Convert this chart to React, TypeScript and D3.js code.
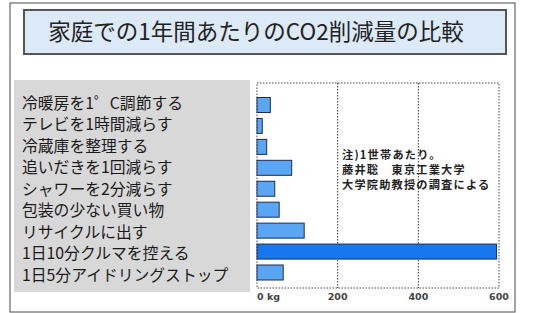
import React from "react";
import * as d3 from "d3";

const categories = [
  "冷暖房を1゜C調節する",
  "テレビを1時間減らす",
  "冷蔵庫を整理する",
  "追いだきを1回減らす",
  "シャワーを2分減らす",
  "包装の少ない買い物",
  "リサイクルに出す",
  "1日10分クルマを控える",
  "1日5分アイドリングストップ",
];
const values = [33, 13, 24, 86, 44, 55, 117, 594, 65];
const highlight = [false, false, false, false, false, false, false, true, false];
const ticks = [0, 200, 400, 600];
const tickLabels = ["0 kg", "200", "400", "600"];
const title = "家庭での1年間あたりのCO2削減量の比較";
const note = ["注)1世帯あたり。", "藤井聡　東京工業大学", "大学院助教授の調査による"];

const W = 541;
const H = 313;
const JP = "'Noto Sans CJK JP', 'Noto Sans', sans-serif";

export default function App() {
  const x = d3.scaleLinear().domain([0, 600]).range([257, 499]);
  const yBar = d3.scalePoint<string>().domain(categories).range([105, 272.5]);
  const yLabel = d3.scalePoint<string>().domain(categories).range([103, 275]);
  const barH = 15;
  const plotTop = 83;
  const plotBottom = 288;

  return (
    <svg width={W} height={H} style={{ position: "absolute", left: 0, top: 0 }}>
      <rect width={W} height={H} fill="#fff" />
      {/* outer frame */}
      <rect x={10} y={3} width={505} height={309} fill="none" stroke="#666" strokeWidth={1.2} />
      {/* title box */}
      <rect x={24} y={10} width={482} height={44} fill="#dce9f7" stroke="#555" strokeWidth={2} />
      <text x={256} y={40} textAnchor="middle" fontFamily={JP} fontSize={22.5} fill="#222">
        {title}
      </text>

      {/* label panel */}
      <rect x={14} y={80} width={236} height={212} fill="#d8d8d8" />
      {categories.map((c) => (
        <text key={c} x={22} y={yLabel(c)!} dy="0.36em" fontFamily={JP} fontSize={15.8} fill="#1a1a1a">
          {c}
        </text>
      ))}

      {/* plot frame + grid */}
      <rect x={x(0)} y={plotTop} width={x(600) - x(0)} height={plotBottom - plotTop}
        fill="#fff" stroke="#444" strokeWidth={1} strokeDasharray="1.5,1.5" />
      {ticks.slice(1, -1).map((t) => (
        <line key={t} x1={x(t)} x2={x(t)} y1={plotTop} y2={plotBottom}
          stroke="#333" strokeWidth={1} strokeDasharray="1.5,1.5" />
      ))}

      {/* bars */}
      {categories.map((c, i) => (
        <rect key={c} x={x(0)} y={yBar(c)! - barH / 2} width={x(values[i]) - x(0)} height={barH}
          fill={highlight[i] ? "#1677ee" : "#5aa6f2"} stroke="#1c2d55" strokeWidth={1} />
      ))}

      {/* tick labels */}
      {ticks.map((t, i) => (
        <text key={t} x={x(t)} y={300} textAnchor={i === 0 ? "start" : "middle"}
          fontFamily="'DejaVu Sans', sans-serif" fontSize={9.5} fontWeight="bold" fill="#444">
          {tickLabels[i]}
        </text>
      ))}

      {/* note */}
      {note.map((n, i) => (
        <text key={n} x={342} y={159 + i * 15} fontFamily={JP} fontSize={11.2}
          letterSpacing={1.2} fontWeight="bold" fill="#222">
          {n}
        </text>
      ))}
    </svg>
  );
}
